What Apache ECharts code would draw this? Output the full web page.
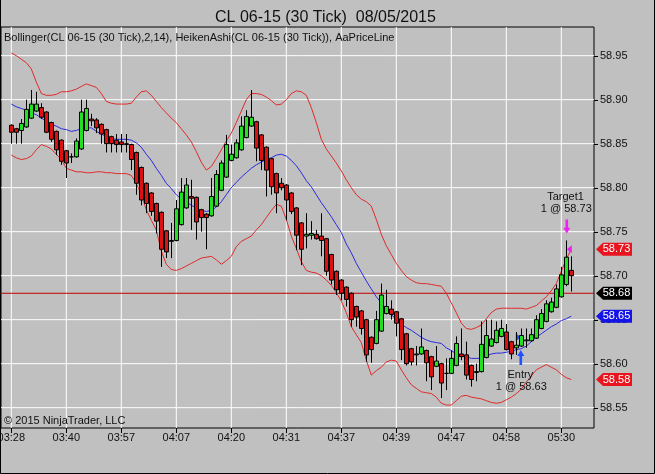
<!DOCTYPE html>
<html><head><meta charset="utf-8">
<script src="https://cdn.jsdelivr.net/npm/echarts@6/dist/echarts.min.js"></script>
<style>html,body{margin:0;padding:0;background:#c0c0c0}#c{width:655px;height:474px}</style>
</head><body><div id="c"></div>
<script>
// ---------- data ----------
const timeLabels = ['03:28','03:40','03:57','04:07','04:20','04:31','04:37','04:39','04:47','04:58','05:30'];
const labelBars = [0,11,22,33,44,55,66,77,88,99,110];
const priceTicks = [58.55,58.60,58.65,58.70,58.75,58.80,58.85,58.90,58.95];

const haOpen = [
58.871,58.867,58.865,58.869,58.879,58.887,58.891,58.886,58.874,58.864,
58.854,58.842,58.835,58.835,58.844,58.865,58.878,58.877,58.872,58.866,
58.858,58.854,58.852,58.850,58.849,58.840,58.823,58.805,58.794,58.782,
58.772,58.751,58.739,58.740,58.758,58.777,58.790,58.789,58.775,58.770,
58.768,58.779,58.797,58.812,58.831,58.834,58.843,58.857,58.870,58.875,
58.860,58.846,58.833,58.816,58.805,58.803,58.794,58.777,58.760,58.745,
58.746,58.747,58.745,58.742,58.724,58.705,58.695,58.687,58.680,58.665,
58.660,58.650,58.630,58.623,58.637,58.657,58.662,58.659,58.651,58.634,
58.617,58.610,58.611,58.615,58.608,58.597,58.600,58.589,58.589,58.598,
58.611,58.610,58.598,58.590,58.591,58.607,58.620,58.624,58.631,58.636,
58.625,58.618,58.620,58.626,58.626,58.629,58.640,58.648,58.659,58.664,
58.676,58.690,58.706];
const haClose = [
58.863,58.863,58.873,58.889,58.895,58.895,58.880,58.863,58.855,58.843,
58.830,58.828,58.835,58.853,58.886,58.890,58.876,58.868,58.861,58.850,
58.850,58.849,58.849,58.849,58.832,58.805,58.786,58.782,58.773,58.762,
58.730,58.727,58.740,58.776,58.795,58.803,58.788,58.761,58.766,58.766,
58.790,58.815,58.828,58.849,58.838,58.851,58.870,58.881,58.880,58.845,
58.831,58.820,58.801,58.794,58.800,58.786,58.773,58.746,58.730,58.747,
58.748,58.742,58.740,58.705,58.695,58.684,58.680,58.673,58.650,58.653,
58.640,58.610,58.616,58.650,58.678,58.665,58.656,58.646,58.616,58.600,
58.602,58.611,58.619,58.601,58.585,58.603,58.578,58.589,58.606,58.623,
58.608,58.587,58.582,58.591,58.622,58.632,58.628,58.638,58.640,58.616,
58.611,58.621,58.632,58.627,58.633,58.650,58.657,58.668,58.670,58.685,
58.701,58.721,58.700];
const haLow = [
58.850,58.850,58.850,58.868,58.878,58.886,58.878,58.862,58.852,58.837,
58.826,58.811,58.828,58.834,58.843,58.864,58.870,58.862,58.850,58.840,
58.840,58.840,58.840,58.840,58.820,58.792,58.780,58.771,58.768,58.748,
58.710,58.720,58.720,58.739,58.757,58.776,58.752,58.741,58.750,58.730,
58.767,58.778,58.796,58.811,58.830,58.833,58.842,58.856,58.869,58.830,
58.820,58.790,58.792,58.771,58.797,58.763,58.770,58.729,58.712,58.731,
58.741,58.741,58.722,58.700,58.690,58.678,58.672,58.665,58.642,58.642,
58.633,58.602,58.601,58.622,58.636,58.656,58.650,58.631,58.604,58.598,
58.598,58.598,58.610,58.580,58.570,58.596,58.561,58.570,58.588,58.597,
58.604,58.582,58.574,58.580,58.590,58.606,58.619,58.623,58.630,58.615,
58.605,58.610,58.619,58.618,58.625,58.628,58.639,58.647,58.658,58.663,
58.675,58.688,58.682];
const haHigh = [
58.872,58.868,58.878,58.900,58.911,58.909,58.896,58.887,58.875,58.865,
58.855,58.843,58.839,58.856,58.900,58.900,58.884,58.879,58.873,58.867,
58.859,58.861,58.861,58.861,58.850,58.841,58.824,58.806,58.795,58.783,
58.773,58.752,58.760,58.786,58.811,58.811,58.809,58.790,58.776,58.771,
58.811,58.820,58.831,58.860,58.849,58.855,58.881,58.888,58.911,58.876,
58.861,58.847,58.834,58.817,58.811,58.804,58.795,58.778,58.761,58.771,
58.762,58.752,58.771,58.743,58.725,58.706,58.696,58.688,58.681,58.666,
58.661,58.651,58.631,58.660,58.691,58.684,58.672,58.660,58.652,58.635,
58.618,58.620,58.640,58.616,58.609,58.620,58.601,58.606,58.615,58.631,
58.640,58.625,58.599,58.600,58.648,58.650,58.650,58.648,58.650,58.645,
58.626,58.636,58.640,58.640,58.640,58.655,58.662,58.672,58.675,58.690,
58.710,58.740,58.722];

const bbUpper = [
58.953,58.950,58.946,58.942,58.935,58.920,58.907,58.905,58.905,58.906,
58.909,58.909,58.910,58.912,58.915,58.918,58.916,58.914,58.907,58.898,
58.896,58.895,58.895,58.895,58.896,58.903,58.909,58.910,58.905,58.898,
58.891,58.885,58.879,58.874,58.867,58.860,58.852,58.841,58.829,58.820,
58.824,58.833,58.843,58.853,58.862,58.874,58.887,58.900,58.907,58.907,
58.906,58.903,58.899,58.894,58.895,58.900,58.907,58.910,58.909,58.905,
58.891,58.874,58.855,58.844,58.836,58.828,58.819,58.809,58.800,58.792,
58.787,58.784,58.779,58.764,58.747,58.734,58.724,58.714,58.706,58.699,
58.695,58.692,58.691,58.691,58.690,58.689,58.688,58.680,58.669,58.658,
58.646,58.640,58.639,58.641,58.644,58.651,58.658,58.662,58.663,58.663,
58.663,58.663,58.663,58.662,58.664,58.666,58.671,58.676,58.683,58.691,
58.705,58.719,58.730];
const bbMiddle = [
58.895,58.892,58.890,58.888,58.885,58.883,58.879,58.876,58.872,58.870,
58.867,58.866,58.864,58.865,58.867,58.868,58.868,58.864,58.861,58.858,
58.856,58.855,58.855,58.855,58.854,58.851,58.846,58.838,58.831,58.822,
58.814,58.805,58.799,58.792,58.787,58.784,58.780,58.777,58.774,58.773,
58.774,58.778,58.784,58.792,58.800,58.806,58.812,58.817,58.822,58.826,
58.829,58.832,58.834,58.837,58.838,58.836,58.831,58.825,58.817,58.808,
58.801,58.792,58.783,58.775,58.767,58.758,58.749,58.736,58.726,58.714,
58.704,58.694,58.685,58.676,58.669,58.663,58.656,58.650,58.645,58.641,
58.638,58.634,58.630,58.627,58.625,58.624,58.623,58.618,58.615,58.611,
58.609,58.608,58.606,58.606,58.606,58.609,58.611,58.612,58.612,58.613,
58.614,58.616,58.617,58.620,58.625,58.630,58.634,58.638,58.642,58.645,
58.649,58.651,58.654];
const bbLower = [
58.837,58.834,58.832,58.833,58.836,58.843,58.849,58.847,58.844,58.838,
58.832,58.822,58.820,58.818,58.818,58.817,58.817,58.818,58.818,58.817,
58.817,58.816,58.816,58.816,58.814,58.805,58.792,58.775,58.763,58.752,
58.728,58.713,58.707,58.706,58.708,58.711,58.714,58.717,58.720,58.721,
58.722,58.718,58.713,58.717,58.722,58.733,58.739,58.742,58.745,58.752,
58.758,58.766,58.774,58.781,58.779,58.764,58.745,58.731,58.716,58.706,
58.704,58.703,58.700,58.695,58.689,58.681,58.671,58.658,58.642,58.633,
58.624,58.604,58.587,58.592,58.596,58.602,58.604,58.603,58.593,58.584,
58.576,58.572,58.568,58.567,58.566,58.562,58.555,58.553,58.553,58.558,
58.563,58.564,58.562,58.561,58.560,58.558,58.556,58.555,58.556,58.559,
58.562,58.566,58.571,58.579,58.586,58.593,58.596,58.599,58.596,58.593,
58.588,58.584,58.582];

const lastPrice = 58.68;
const entryTrade = {bar: 102, price: 58.63, label: 'Entry', qty: '1 @ 58.63'};
const targetTrade = {bar: 111, price: 58.73, label: 'Target1', qty: '1 @ 58.73'};

// ---------- layout / style ----------
const FONT = '"Liberation Sans", Arial, sans-serif';
const G = {left: 1, top: 27, width: 593, height: 401};
const X_MIN = -2.06, X_MAX = 116.54;
const Y_MIN = 58.5269, Y_MAX = 58.9826;
const UP = '#22e022', DOWN = '#dd1111';
const BAND_RED = '#e02a2a', BAND_BLUE = '#2a2ae0';

const candles = haOpen.map((o, i) => [i, o, haClose[i], haLow[i], haHigh[i]]);
const toXY = arr => arr.map((v, i) => [i, v]);

function textMark(bar, price, text) {
  return {coord: [bar, price], symbol: 'circle', symbolSize: 1,
    itemStyle: {color: 'rgba(0,0,0,0)'},
    label: {show: true, position: 'inside', formatter: text, color: '#111', fontSize: 11, fontFamily: FONT}};
}
function gridLineSeries(points) {
  return {type: 'line', data: points, symbol: 'none', showSymbol: false, silent: true, z: 3,
    lineStyle: {color: '#ffffff', width: 1}, animation: false};
}
const gridSeries = [
  ...priceTicks.map(v => gridLineSeries([[X_MIN, v], [X_MAX, v]])),
  ...labelBars.map(b => gridLineSeries([[b, Y_MIN], [b, Y_MAX]]))
];

const chart = echarts.init(document.getElementById('c'), null, {width: 655, height: 474});
chart.setOption({
  animation: false,
  backgroundColor: '#c0c0c0',
  textStyle: {fontFamily: FONT},
  title: {text: 'CL 06-15 (30 Tick)  08/05/2015', left: 210, top: 5,
    textStyle: {fontSize: 16, fontWeight: 'normal', color: '#111', fontFamily: FONT}},
  grid: {left: G.left, top: G.top, width: G.width, height: G.height, show: true,
    borderColor: '#000', borderWidth: 1, backgroundColor: 'transparent',
    containLabel: false, outerBoundsMode: 'none'},
  xAxis: {type: 'value', min: X_MIN, max: X_MAX,
    axisLine: {show: false, onZero: false},
    axisTick: {show: true, customValues: labelBars, length: 5, lineStyle: {color: '#000'}},
    axisLabel: {customValues: labelBars, color: '#111', fontSize: 11, margin: 4, fontFamily: FONT,
      formatter: v => timeLabels[labelBars.indexOf(Math.round(v))] || ''},
    splitLine: {show: false}},
  yAxis: {type: 'value', position: 'right', min: Y_MIN, max: Y_MAX,
    axisLine: {show: false, onZero: false},
    axisTick: {show: false},
    axisLabel: {show: false},
    splitLine: {show: false}},
  series: [
    ...gridSeries,
    {type: 'line', data: [[X_MIN, lastPrice], [X_MAX, lastPrice]], symbol: 'none', showSymbol: false, z: 3,
      lineStyle: {color: '#c00000', width: 1}, silent: true},
    {type: 'line', data: toXY(bbUpper), showSymbol: false, symbol: 'none', z: 4,
      lineStyle: {color: BAND_RED, width: 1}},
    {type: 'line', data: toXY(bbLower), showSymbol: false, symbol: 'none', z: 4,
      lineStyle: {color: BAND_RED, width: 1}},
    {type: 'line', data: toXY(bbMiddle), showSymbol: false, symbol: 'none', z: 4,
      lineStyle: {color: BAND_BLUE, width: 1}},
    {type: 'candlestick', data: candles, encode: {x: 0, y: [1, 2, 3, 4]}, barWidth: 4, z: 6,
      itemStyle: {color: UP, color0: DOWN, borderColor: '#000', borderColor0: '#000', borderWidth: 1},
      markPoint: {silent: true, data: [
        {coord: [entryTrade.bar - 0.1, entryTrade.price - 0.023],
          symbol: 'path://M4 0 L8 6 L5.5 6 L5.5 15 L2.5 15 L2.5 6 L0 6 Z', symbolSize: [7, 15],
          itemStyle: {color: '#2050ff'}, label: {show: false}},
        {coord: [entryTrade.bar - 0.6, entryTrade.price],
          symbol: 'path://M0 0 L6 5 L0 10 Z', symbolSize: [5, 8],
          itemStyle: {color: '#2050ff'}, label: {show: false}},
        textMark(entryTrade.bar - 0.2, entryTrade.price - 0.043, entryTrade.label),
        textMark(entryTrade.bar, entryTrade.price - 0.056, entryTrade.qty),
        {coord: [targetTrade.bar + 0.1, targetTrade.price + 0.026],
          symbol: 'path://M2.5 0 L5.5 0 L5.5 9 L8 9 L4 15 L0 9 L2.5 9 Z', symbolSize: [7, 14],
          itemStyle: {color: '#f020f0'}, label: {show: false}},
        {coord: [targetTrade.bar + 0.6, targetTrade.price],
          symbol: 'path://M6 0 L0 5 L6 10 Z', symbolSize: [5, 8],
          itemStyle: {color: '#f020f0'}, label: {show: false}},
        textMark(targetTrade.bar - 0.15, targetTrade.price + 0.060, targetTrade.label),
        textMark(targetTrade.bar, targetTrade.price + 0.046, targetTrade.qty)
      ]}}
  ]
});

// right-axis ticks, labels and price tags, positioned through the y scale
const tagDefs = [
  {v: bbUpper[bbUpper.length - 1], color: '#e8141e'},
  {v: lastPrice, color: '#000000'},
  {v: bbMiddle[bbMiddle.length - 1], color: '#1414e6'},
  {v: bbLower[bbLower.length - 1], color: '#e8141e'}
];
const axisX = G.left + G.width;
const elements = [
  {type: 'polyline', shape: {points: [[0.5, 0], [0.5, 473.5], [654.5, 473.5], [654.5, 0]]},
    style: {stroke: '#000', fill: null, lineWidth: 1}, z: 10},
  {type: 'text', x: 4, y: 38, z: 10,
    style: {text: 'Bollinger(CL 06-15 (30 Tick),2,14), HeikenAshi(CL 06-15 (30 Tick)), AaPriceLine',
      fill: '#111', font: '11px ' + FONT, align: 'left', verticalAlign: 'middle'}},
  {type: 'text', x: 4, y: 421, z: 10,
    style: {text: '\u00a9 2015 NinjaTrader, LLC', fill: '#111', font: '11px ' + FONT,
      align: 'left', verticalAlign: 'middle'}}
];
priceTicks.forEach(v => {
  const yp = chart.convertToPixel({yAxisIndex: 0}, v);
  const y = Math.round(yp) + 0.5;
  elements.push({type: 'polyline', z: 10, shape: {points: [[axisX, y], [axisX + 4, y]]},
    style: {stroke: '#000', fill: null, lineWidth: 1}});
  elements.push({type: 'text', z: 10, x: axisX + 6, y: yp,
    style: {text: v.toFixed(2), fill: '#111', font: '11px ' + FONT, align: 'left', verticalAlign: 'middle'}});
});
tagDefs.forEach(t => {
  const y = chart.convertToPixel({yAxisIndex: 0}, t.v);
  const x0 = axisX + 2, x1 = axisX + 9, x2 = axisX + 38, h = 6.5;
  elements.push({type: 'polygon', z: 20,
    shape: {points: [[x0, y], [x1, y - h], [x2, y - h], [x2, y + h], [x1, y + h]]},
    style: {fill: t.color}});
  elements.push({type: 'text', z: 21, x: (x1 + x2) / 2 - 1, y: y,
    style: {text: t.v.toFixed(2), fill: '#fff', font: '11px ' + FONT, align: 'center', verticalAlign: 'middle'}});
});
chart.setOption({graphic: {elements: elements}});
</script>
</body></html>
